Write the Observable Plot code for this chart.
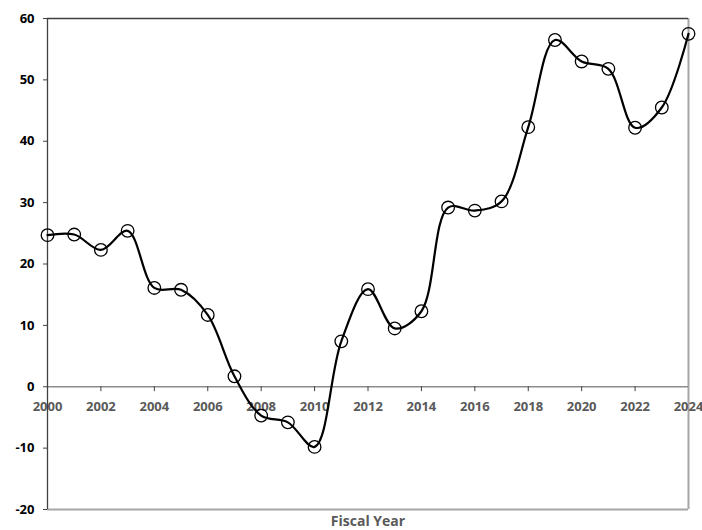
<!DOCTYPE html>
<html>
<head>
<meta charset="utf-8">
<script src="https://cdn.jsdelivr.net/npm/d3@7"></script>
<script src="https://cdn.jsdelivr.net/npm/@observablehq/plot@0.6"></script>
<style>
  body { margin: 0; background: #fff; }
  #chart svg { display: block; }
</style>
</head>
<body>
<div id="chart"></div>
<script>
const years = [2000, 2001, 2002, 2003, 2004, 2005, 2006, 2007, 2008, 2009, 2010, 2011, 2012,
               2013, 2014, 2015, 2016, 2017, 2018, 2019, 2020, 2021, 2022, 2023, 2024];
const values = [24.7, 24.8, 22.3, 25.4, 16.1, 15.8, 11.7, 1.7, -4.7, -5.8, -9.8, 7.4, 15.9,
                9.5, 12.3, 29.2, 28.7, 30.2, 42.3, 56.5, 53.0, 51.8, 42.2, 45.5, 57.5];
const xTicks = [2000, 2002, 2004, 2006, 2008, 2010, 2012, 2014, 2016, 2018, 2020, 2022, 2024];
const yTicks = [-20, -10, 0, 10, 20, 30, 40, 50, 60];
const xTitle = "Fiscal Year";

const data = years.map((y, i) => ({year: y, value: values[i]}));
const font = "'Open Sans', 'DejaVu Sans', sans-serif";

const chart = Plot.plot({
  width: 702,
  height: 530,
  marginLeft: 47,
  marginRight: 14,
  marginTop: 18,
  marginBottom: 21,
  style: {fontFamily: font, fontSize: "13px", fontWeight: "bold", background: "#fff"},
  x: {domain: [2000, 2024], axis: null},
  y: {domain: [-20, 60], axis: null},
  marks: [
    // frame
    Plot.ruleY([-20], {stroke: "#a6a6a6", strokeWidth: 2}),
    Plot.ruleX([2024], {stroke: "#a6a6a6", strokeWidth: 2}),
    Plot.ruleY([60], {stroke: "#404040", strokeWidth: 1.3}),
    // zero line with ticks
    Plot.ruleY([0], {stroke: "#8c8c8c", strokeWidth: 1.5}),
    Plot.ruleX(xTicks.slice(1, -1), {x: d => d, y1: 0, y2: -0.8, stroke: "#404040", strokeWidth: 1}),
    Plot.text(xTicks, {x: d => d, y: 0, dy: 20, text: d => String(d), fill: "#595959",
      fontSize: 13, fontWeight: "bold"}),
    // y axis
    Plot.ruleX([2000], {stroke: "#404040", strokeWidth: 1.3}),
    Plot.axisY({ticks: yTicks, tickSize: 4, tickPadding: 9, stroke: "#404040",
      fill: "#000", fontSize: 13, fontWeight: "bold", label: null, tickFormat: d => String(d)}),
    // series
    Plot.line(data, {x: "year", y: "value", curve: "catmull-rom", stroke: "#000", strokeWidth: 2.2}),
    Plot.dot(data, {x: "year", y: "value", r: 6.3, stroke: "#000", strokeWidth: 1.3, fill: "none"}),
    // axis title
    Plot.text([xTitle], {frameAnchor: "bottom", dy: 12, text: d => d, fill: "#595959",
      fontSize: 14, fontWeight: "bold", lineAnchor: "middle"})
  ]
});
document.getElementById("chart").append(chart);
</script>
</body>
</html>
